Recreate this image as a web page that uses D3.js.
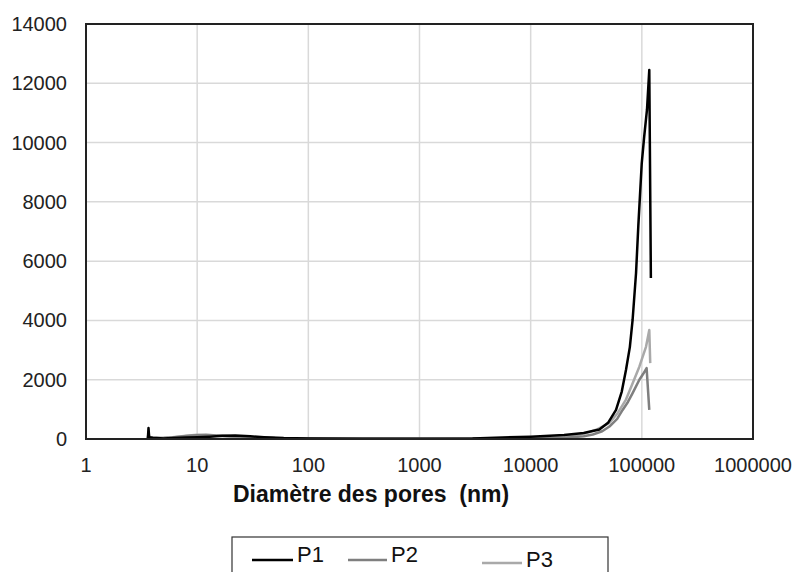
<!DOCTYPE html>
<html lang="fr">
<head>
<meta charset="UTF-8">
<title>Distribution des pores</title>
<script src="https://d3js.org/d3.v7.min.js"></script>
<style>
    body { margin: 0; background: #fff; }
    svg { display: block; font-family: 'Liberation Sans', Arial, sans-serif; }
    .grid line { stroke: #d9d9d9; stroke-width: 1.5px; }
    .tick-label { font-size: 20px; fill: #222; }
    .series { fill: none; stroke-width: 2.5px; stroke-linejoin: round; }
</style>
</head>
<body>
<svg width="796" height="572"></svg>
<script>
// diameters (nm) and values
const p1X = [3.6, 3.65, 3.7, 4, 5, 6, 8, 10, 13, 17, 22, 30, 40, 60, 100, 300, 1000, 3000, 10000, 20000, 30000, 41500, 50000, 58600, 66000, 72000, 78000, 82600, 88700, 93000, 99800, 105000, 111200, 116700, 120600];
const p1Y = [0, 370, 60, 40, 20, 30, 50, 60, 80, 110, 120, 90, 60, 30, 15, 10, 10, 20, 80, 135, 200, 320, 560, 980, 1600, 2330, 3100, 4015, 5600, 7200, 9300, 10200, 11100, 12450, 5430];

const p2X = [3.6, 3.65, 3.7, 4, 5, 6, 8, 10, 12, 15, 20, 30, 50, 100, 1000, 10000, 20800, 30000, 36200, 44000, 51100, 60000, 67200, 75000, 82600, 95000, 103000, 110400, 116700];
const p2Y = [0, 220, 50, 30, 30, 50, 100, 130, 140, 120, 90, 60, 30, 15, 10, 15, 40, 90, 150, 260, 420, 680, 980, 1250, 1550, 2000, 2200, 2390, 980];

const p3X = [3.6, 3.65, 3.7, 4, 5, 6, 8, 10, 12, 15, 20, 30, 50, 100, 1000, 10000, 20000, 31500, 40000, 51100, 60000, 72000, 82000, 95000, 109000, 116700, 119000];
const p3Y = [0, 180, 40, 30, 40, 60, 110, 140, 130, 110, 80, 50, 25, 12, 8, 15, 60, 200, 330, 540, 850, 1330, 1850, 2440, 3110, 3680, 2560];

const series = [
    { name: "P1", x: p1X, y: p1Y, color: "#000000" },
    { name: "P2", x: p2X, y: p2Y, color: "#7f7f7f" },
    { name: "P3", x: p3X, y: p3Y, color: "#a9a9a9" }
];

const xTicks = [1, 10, 100, 1000, 10000, 100000, 1000000];
const yTicks = [0, 2000, 4000, 6000, 8000, 10000, 12000, 14000];

const svg = d3.select("svg");
const plotL = 86, plotR = 753, plotT = 24, plotB = 439;

const x = d3.scaleLog().domain([1, 1e6]).range([plotL, plotR]);
const y = d3.scaleLinear().domain([0, 14000]).range([plotB, plotT]);

// grid
const grid = svg.append("g").attr("class", "grid");
grid.selectAll(".h").data(yTicks.slice(1, -1)).enter().append("line")
    .attr("x1", plotL).attr("x2", plotR)
    .attr("y1", d => y(d)).attr("y2", d => y(d));
grid.selectAll(".v").data(xTicks.slice(1, -1)).enter().append("line")
    .attr("y1", plotT).attr("y2", plotB)
    .attr("x1", d => x(d)).attr("x2", d => x(d));

// series
const line = d3.line().x(d => x(d[0])).y(d => y(d[1]));
// P3 first so the darker ones sit on top
series.slice().reverse().forEach(s => {
    svg.append("path")
        .attr("class", "series")
        .attr("stroke", s.color)
        .attr("d", line(d3.zip(s.x, s.y)));
});

// frame
svg.append("rect")
    .attr("x", plotL).attr("y", plotT)
    .attr("width", plotR - plotL).attr("height", plotB - plotT)
    .attr("fill", "none").attr("stroke", "#222").attr("stroke-width", 2);

// tick labels
svg.selectAll(".ylab").data(yTicks).enter().append("text")
    .attr("class", "tick-label")
    .attr("x", 67).attr("y", d => y(d)).attr("dy", "0.35em")
    .attr("text-anchor", "end")
    .text(d => d);
svg.selectAll(".xlab").data(xTicks).enter().append("text")
    .attr("class", "tick-label")
    .attr("x", d => x(d)).attr("y", 472)
    .attr("text-anchor", "middle")
    .text(d => d);

svg.append("text")
    .attr("x", 233).attr("y", 502)
    .attr("font-size", 23).attr("font-weight", "bold").attr("fill", "#111")
    .attr("xml:space", "preserve")
    .text("Diamètre des pores  (nm)");

// legend (box runs off the bottom edge, as in the original)
const legend = svg.append("g");
legend.append("rect")
    .attr("x", 232).attr("y", 537).attr("width", 376).attr("height", 60)
    .attr("fill", "#fff").attr("stroke", "#333").attr("stroke-width", 1.2);
const legendPos = [[252, 293, 560, 562], [348, 387, 560, 562], [482, 522, 563, 567]];
series.forEach((s, i) => {
    const [a, b, ly, ty] = legendPos[i];
    legend.append("line")
        .attr("x1", a).attr("x2", b).attr("y1", ly).attr("y2", ly)
        .attr("stroke", s.color).attr("stroke-width", 2.5);
    legend.append("text")
        .attr("x", b + 4).attr("y", ty)
        .attr("font-size", 22).attr("fill", "#111")
        .text(s.name);
});
</script>
</body>
</html>
